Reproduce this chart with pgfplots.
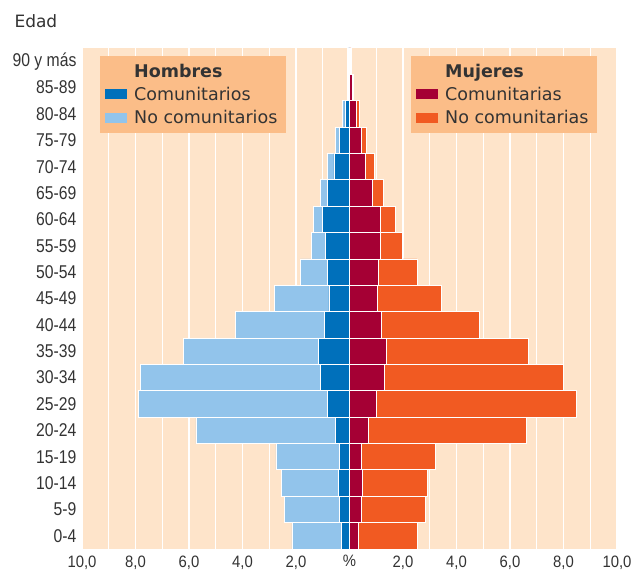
\documentclass[border=0pt]{standalone}
\usepackage{fontspec}
\setmainfont{Liberation Sans}
\newfontfamily\dejavu{DejaVu Sans}
\usepackage{pgfplots}
\usepackage{pgfplotstable}
\pgfplotsset{compat=1.18}
\definecolor{mcom}{HTML}{0070BB}
\definecolor{mnocom}{HTML}{92C4EB}
\definecolor{wcom}{HTML}{A50034}
\definecolor{wnocom}{HTML}{F15A22}
\definecolor{bgcol}{HTML}{FEE4CA}
\definecolor{legcol}{HTML}{FBBD88}
\definecolor{txt}{HTML}{333333}

% age index: 0 = 0-4 ... 18 = 90 y mas
\pgfplotstableread{
age mc   mnc  wc   wnc
0   0.31 1.84 0.35 2.17
1   0.37 2.06 0.46 2.39
2   0.41 2.12 0.49 2.43
3   0.37 2.38 0.45 2.76
4   0.52 5.22 0.69 5.93
5   0.81 7.08 1.01 7.48
6   1.10 6.73 1.31 6.70
7   1.16 5.04 1.39 5.31
8   0.94 3.33 1.18 3.69
9   0.77 2.05 1.03 2.40
10  0.81 1.03 1.09 1.43
11  0.90 0.51 1.14 0.82
12  1.01 0.34 1.14 0.56
13  0.84 0.26 0.84 0.43
14  0.58 0.23 0.60 0.33
15  0.39 0.12 0.44 0.21
16  0.17 0.11 0.26 0.11
17  0.04 0.05 0.10 0.06
18  0.03 0.03 0.03 0.03
}\pyramid

\pgfplotsset{
  common/.style={
    scale only axis, width=535pt, height=501pt,
    xmin=-10, xmax=10, ymin=-0.5, ymax=18.5,
    xbar, bar width=1, bar shift=0pt,
    clip=false,
  },
  legbox/.style={
    legend cell align=left,
    legend style={fill=legcol, draw=none, anchor=north west,
      inner xsep=5pt, inner ysep=6pt, row sep=5.5pt, column sep=3pt,
      font=\dejavu\fontsize{17.5}{19}\selectfont, text=txt,
      nodes={inner xsep=4pt, inner ysep=1.5pt}},
    legend image code/.code={\fill[##1, draw=none] (0pt,-5pt) rectangle (22pt,5pt);},
  },
}

\begin{document}
\begin{tikzpicture}
\begin{axis}[common, name=ax, legbox,
  axis background/.style={fill=bgcol},
  axis line style={draw=none},
  xtick={-10,-8,...,10},
  xticklabels={{10,0},{8,0},{6,0},{4,0},{2,0},\%,{2,0},{4,0},{6,0},{8,0},{10,0}},
  minor xtick={-9,-7,...,9},
  xmajorgrids, xminorgrids,
  major grid style={white, line width=1.2pt},
  minor grid style={white, line width=1.2pt},
  tick style={draw=none},
  major tick length=0pt, minor tick length=0pt,
  ytick={0,...,18},
  yticklabels={0-4,5-9,10-14,15-19,20-24,25-29,30-34,35-39,40-44,45-49,50-54,55-59,60-64,65-69,70-74,75-79,80-84,85-89,90 y más},
  xticklabel style={font=\fontsize{16.5}{16.5}\selectfont, text=txt, xscale=0.9, anchor=north, yshift=-3pt},
  yticklabel style={font=\fontsize{18.5}{18.5}\selectfont, text=txt, xscale=0.85, anchor=east, xshift=-3pt},
  legend style={at={(axis description cs:0.0336,0.984)}},
]
\addplot[fill=mnocom, draw=white, line width=0.8pt, forget plot]
  table[x expr={-(\thisrow{mc}+\thisrow{mnc})}, y=age] {\pyramid};
\addplot[fill=mcom, draw=white, line width=0.8pt, forget plot]
  table[x expr={-\thisrow{mc}}, y=age] {\pyramid};
\addlegendimage{empty legend}
\addlegendentry{\textbf{Hombres}}
\addlegendimage{fill=mcom}
\addlegendentry{Comunitarios}
\addlegendimage{fill=mnocom}
\addlegendentry{No comunitarios}
\end{axis}
\begin{axis}[common, legbox, hide axis,
  legend style={at={(axis description cs:0.615,0.984)}},
]
\addplot[fill=wnocom, draw=white, line width=0.8pt, forget plot]
  table[x expr={\thisrow{wc}+\thisrow{wnc}}, y=age] {\pyramid};
\addplot[fill=wcom, draw=white, line width=0.8pt, forget plot]
  table[x=wc, y=age] {\pyramid};
\addlegendimage{empty legend}
\addlegendentry{\textbf{Mujeres}}
\addlegendimage{fill=wcom}
\addlegendentry{Comunitarias}
\addlegendimage{fill=wnocom}
\addlegendentry{No comunitarias}
\end{axis}
\node[anchor=base west, font=\dejavu\fontsize{17}{17}\selectfont, text=txt]
  at ([xshift=-71pt,yshift=20pt]ax.north west) {Edad};
\path[use as bounding box] ([shift={(-82pt,-31pt)}]ax.south west) rectangle ([shift={(18pt,48pt)}]ax.north east);
\end{tikzpicture}
\end{document}
